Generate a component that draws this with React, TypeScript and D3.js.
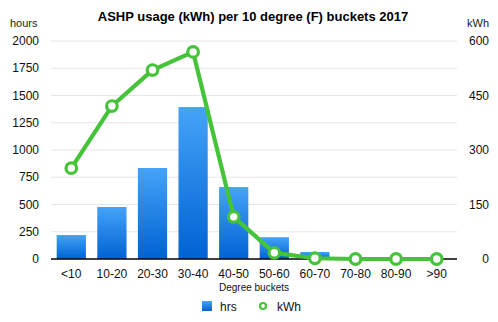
import React from "react";
import * as d3 from "d3";

const categories = ["<10", "10-20", "20-30", "30-40", "40-50", "50-60", "60-70", "70-80", "80-90", ">90"];
const hrs = [220, 477, 835, 1394, 660, 200, 64, 0, 0, 0];
const kwh = [250, 421, 520, 570, 116, 17, 2, 0, 0, 0];
const leftTicks = [0, 250, 500, 750, 1000, 1250, 1500, 1750, 2000];
const rightTicks = [0, 150, 300, 450, 600];

const W = 498, H = 322;
const L = 51, R = 457, T = 41, B = 259;
const FONT = "'Liberation Sans', Arial, Helvetica, sans-serif";

export default function App() {
  const x = d3.scaleBand<string>().domain(categories).range([L, R]).paddingInner(0.28).paddingOuter(0.14);
  const yL = d3.scaleLinear().domain([0, 2000]).range([B, T]);
  const yR = d3.scaleLinear().domain([0, 600]).range([B, T]);
  const cx = (c: string) => (x(c) as number) + x.bandwidth() / 2;
  const line = d3.line<number>().x((_, i) => cx(categories[i])).y((d) => yR(d));

  return (
    <svg width={W} height={H} style={{ position: "absolute", left: 0, top: 0, background: "#fff" }} fontFamily={FONT}>
      <defs>
        <linearGradient id="barg" x1="0" y1="0" x2="0" y2="1">
          <stop offset="0" stopColor="#45a3f7" />
          <stop offset="1" stopColor="#0062d3" />
        </linearGradient>
        <linearGradient id="legg" x1="0" y1="0" x2="0" y2="1">
          <stop offset="0" stopColor="#45a3f7" />
          <stop offset="1" stopColor="#0062d3" />
        </linearGradient>
      </defs>
      <text x={253} y={21} textAnchor="middle" fontSize={13} fontWeight="bold" fill="#000">
        ASHP usage (kWh) per 10 degree (F) buckets 2017
      </text>
      <text x={10} y={27} fontSize={11} fill="#222">hours</text>
      <text x={489} y={27} fontSize={11} fill="#222" textAnchor="end">kWh</text>
      {leftTicks.map((t) => (
        <g key={"l" + t}>
          {t > 0 && <line x1={L} x2={R} y1={yL(t)} y2={yL(t)} stroke="#e6e6e6" strokeWidth={1} />}
          <text x={39} y={yL(t) + 4} textAnchor="end" fontSize={12} fill="#111">{t}</text>
        </g>
      ))}
      {rightTicks.map((t) => (
        <text key={"r" + t} x={489} y={yR(t) + 4} textAnchor="end" fontSize={12} fill="#111">{t}</text>
      ))}
      {categories.map((c, i) => (
        <rect key={c} x={x(c)} y={yL(hrs[i])} width={x.bandwidth()} height={B - yL(hrs[i])} fill="url(#barg)" />
      ))}
      <line x1={L} x2={R} y1={B} y2={B} stroke="#000" strokeWidth={1.5} />
      {categories.map((c) => (
        <text key={"x" + c} x={cx(c)} y={278} textAnchor="middle" fontSize={12} fill="#111">{c}</text>
      ))}
      <text x={254} y={291} textAnchor="middle" fontSize={10} fill="#111">Degree buckets</text>
      <path d={line(kwh) || ""} fill="none" stroke="#45c43a" strokeWidth={4.2} strokeLinejoin="round" />
      {categories.map((c, i) => (
        <circle key={"p" + c} cx={cx(c)} cy={yR(kwh[i])} r={5.3} fill="#fff" stroke="#45c43a" strokeWidth={3.2} />
      ))}
      <rect x={202} y={301} width={10} height={10} fill="url(#legg)" />
      <text x={220} y={311} fontSize={12} fill="#111">hrs</text>
      <circle cx={263} cy={306} r={3} fill="#fff" stroke="#45c43a" strokeWidth={2.2} />
      <text x={277} y={311} fontSize={12} fill="#111">kWh</text>
    </svg>
  );
}
